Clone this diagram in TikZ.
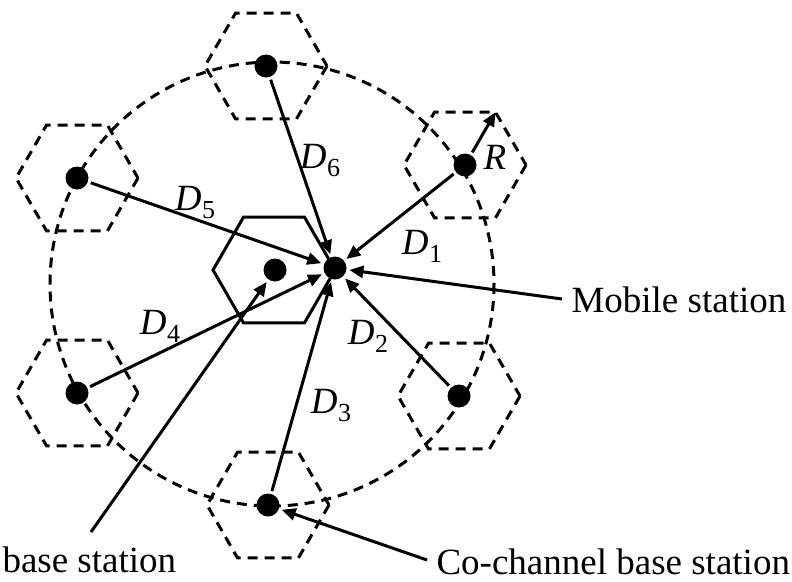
\documentclass[tikz,border=0pt]{standalone}
\usepackage{fontspec}
\setmainfont{Liberation Serif}
\usetikzlibrary{arrows.meta}

% distance label: italic D with a lowered index
\newcommand\dlab[1]{\textit{D}\kern0.5pt\raisebox{-8pt}{\fontsize{26}{26}\selectfont #1}}

\begin{document}
\begin{tikzpicture}[x=1pt,y=-1pt,
  line width=3pt,
  dashline/.style={line width=3pt, dash pattern=on 10pt off 7pt},
  station/.style={circle, fill=black, inner sep=0pt, minimum size=23pt, outer sep=3pt},
  tip/.style={-{Triangle[length=14pt,width=12pt]}},
  lab/.style={font=\fontsize{37}{40}\selectfont, inner sep=0pt},
]
\useasboundingbox (0,0) rectangle (792,581);

% cell hexagon of circumradius 61 about a centre
\newcommand\hexcell[2]{%
  \draw[#2] (#1)+(0:61) -- +(60:61) -- +(120:61) -- +(180:61) -- +(240:61) -- +(300:61) -- cycle;}

% centres of the co-channel cells, the serving cell and the mobile
\coordinate (c1) at (465,165);
\coordinate (c2) at (459,396);
\coordinate (c3) at (268,505);
\coordinate (c4) at (77,393);
\coordinate (c5) at (77,178);
\coordinate (c6) at (266,66);
\coordinate (c0) at (274,270);

% circle through the co-channel cells
\draw[dashline] (272,284) circle[radius=222];

% co-channel cells (dashed) and serving cell (solid)
\foreach \c in {c1,c2,c3,c4,c5,c6} {\hexcell{\c}{dashline}}
\hexcell{c0}{line width=3pt}

% stations
\foreach \c in {1,...,6} {\node[station] (b\c) at (c\c) {};}
\node[station] (bs) at (275,270) {};
\node[station] (ms) at (335,268) {};

% interference paths to the mobile
\foreach \c in {1,...,6} {\draw[tip] (b\c) -- (ms);}

% cell radius, to the upper right corner of the cell
\path (c1) ++(-60:61) coordinate (rv);
\draw[tip] (b1) -- (rv);

% distance labels
\node[lab] at (422,246) {\dlab{1}};
\node[lab] at (368,336) {\dlab{2}};
\node[lab] at (331,406) {\dlab{3}};
\node[lab] at (160,326) {\dlab{4}};
\node[lab] at (195,203) {\dlab{5}};
\node[lab] at (320,161) {\dlab{6}};
\node[lab] at (495,157) {\textit{R}};

% callouts
\node[lab, anchor=base west] (tms) at (570,312) {Mobile station};
\node[lab, anchor=base west] (tcc) at (435,574) {Co-channel base station};
\node[lab, anchor=base west] (tbs) at (1,572) {base station};
\coordinate (pms) at (562,299);
\coordinate (pcc) at (427,560);
\coordinate (pbs) at (91,532);
\draw[tip] (pms) -- (ms);
\draw[tip] (pcc) -- (b3);
\draw[tip] (pbs) -- (bs);
\end{tikzpicture}
\end{document}
